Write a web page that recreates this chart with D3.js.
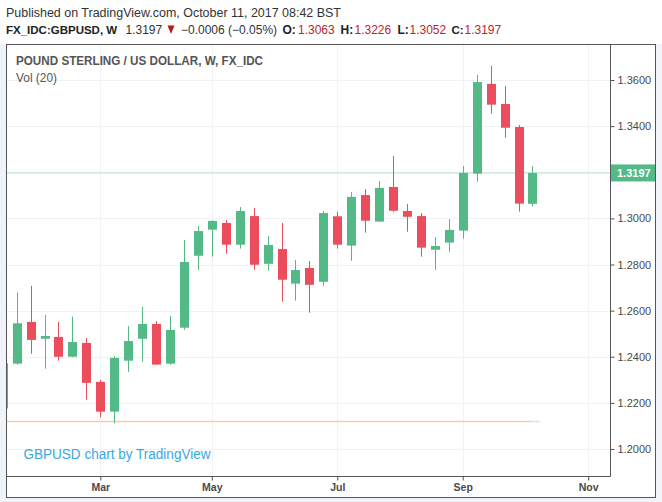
<!DOCTYPE html>
<html><head><meta charset="utf-8">
<script src="https://cdn.jsdelivr.net/npm/d3@7/dist/d3.min.js"></script>
<style>
html,body{margin:0;padding:0;background:#f0f3f7;}
svg{display:block;}
</style></head>
<body>
<svg id="c" width="662" height="502"></svg>
<script>
// ---- data ----
const weeks = ["2017-01-16","2017-01-23","2017-01-30","2017-02-06","2017-02-13","2017-02-20","2017-02-27",
"2017-03-06","2017-03-13","2017-03-20","2017-03-27","2017-04-03","2017-04-10","2017-04-17","2017-04-24",
"2017-05-01","2017-05-08","2017-05-15","2017-05-22","2017-05-29","2017-06-05","2017-06-12","2017-06-19",
"2017-06-26","2017-07-03","2017-07-10","2017-07-17","2017-07-24","2017-07-31","2017-08-07","2017-08-14",
"2017-08-21","2017-08-28","2017-09-04","2017-09-11","2017-09-18","2017-09-25","2017-10-02","2017-10-09"];
const open  = [1.2176,1.2370,1.2551,1.2478,1.2486,1.2400,1.2460,1.2291,1.2162,1.2383,1.2478,1.2542,1.2370,1.2526,1.2838,
1.2951,1.2980,1.2886,1.3010,1.2803,1.2867,1.2717,1.2785,1.2725,1.3009,1.2882,1.3101,1.2986,1.3136,1.3032,1.3010,
1.2864,1.2895,1.2947,1.3194,1.3583,1.3496,1.3396,1.3063];
const high  = [1.2415,1.2678,1.2707,1.2581,1.2551,1.2574,1.2481,1.2300,1.2403,1.2533,1.2616,1.2555,1.2577,1.2906,1.2967,
1.2991,1.2993,1.3049,1.3045,1.2924,1.2980,1.2820,1.2815,1.3032,1.3028,1.3114,1.3127,1.3162,1.3270,1.3062,1.3023,
1.2919,1.2997,1.3227,1.3622,1.3662,1.3574,1.3405,1.3226];
const low   = [1.1990,1.2366,1.2413,1.2348,1.2383,1.2398,1.2214,1.2137,1.2111,1.2334,1.2379,1.2364,1.2366,1.2517,1.2776,
1.2834,1.2847,1.2869,1.2777,1.2773,1.2639,1.2643,1.2591,1.2708,1.2869,1.2816,1.2938,1.2985,1.3029,1.2942,1.2834,
1.2777,1.2855,1.2912,1.3159,1.3454,1.3350,1.3029,1.3052];
const close = [1.2372,1.2545,1.2473,1.2490,1.2400,1.2464,1.2287,1.2162,1.2395,1.2468,1.2542,1.2366,1.2516,1.2811,1.2945,
1.2989,1.2886,1.3032,1.2799,1.2885,1.2734,1.2776,1.2712,1.3023,1.2886,1.3093,1.2990,1.3132,1.3033,1.3007,1.2873,
1.2880,1.2950,1.3197,1.3591,1.3493,1.3393,1.3064,1.3197];
const volume = weeks.map(() => 0); // FX_IDC reports no volume
const priceTicks = [1.20,1.22,1.24,1.26,1.28,1.30,1.32,1.34,1.36];
const priceTickLabels = priceTicks.map(v => v.toFixed(4));
const monthTicks = ["2017-03-06","2017-05-01","2017-07-03","2017-09-04","2017-11-06"];
const monthLabels = ["Mar","May","Jul","Sep","Nov"];
const lastPrice = 1.3197;

// ---- build ----
const parse = d3.utcParse("%Y-%m-%d");
const bars = weeks.map((w,i)=>({date:parse(w),o:open[i],h:high[i],l:low[i],c:close[i],v:volume[i]}));
const mt = monthTicks.map(parse);

const svg = d3.select("#c");
const L = 6.5, R = 610.5, T = 44.5, B = 476.5, OR = 655.5, OB = 497.5;
const UP = "#53b987", DN = "#eb4d5c";

const x = d3.scaleUtc().domain([mt[0], mt[4]]).range([100.3, 588.2]);
const y = d3.scaleLinear().domain([1.20, 1.36]).range([449, 80]);
const yv = d3.scaleLinear().domain([0, 1]).range([421.5, 380]);

// header
svg.append("rect").attr("x",0).attr("y",0).attr("width",662).attr("height",44).attr("fill","#ffffff");
const hf = "'Liberation Sans', Arial, sans-serif";
svg.append("text").attr("x",6).attr("y",16.5).attr("font-family",hf).attr("font-size",12)
  .attr("fill","#333").attr("textLength",335).attr("lengthAdjust","spacingAndGlyphs")
  .text("Published on TradingView.com, October 11, 2017 08:42 BST");
const n = open.length - 1;
const seg = [
  {t:"FX_IDC:GBPUSD, W", x:6, s:11.5, b:true, c:"#222"},
  {t:close[n].toFixed(4), x:125.5, s:12, b:false, c:"#333"},
  {t:"\u22120.0006 (\u22120.05%)", x:181, s:12, b:false, c:"#333"},
  {t:"O:", x:282.5, s:12, b:true, c:"#222"},
  {t:open[n].toFixed(4), x:298, s:12, b:false, c:"#b8262b"},
  {t:"H:", x:340.5, s:12, b:true, c:"#222"},
  {t:high[n].toFixed(4), x:354.5, s:12, b:false, c:"#b8262b"},
  {t:"L:", x:397.5, s:12, b:true, c:"#222"},
  {t:low[n].toFixed(4), x:409.5, s:12, b:false, c:"#b8262b"},
  {t:"C:", x:451.5, s:11.5, b:true, c:"#222"},
  {t:close[n].toFixed(4), x:464.5, s:12, b:false, c:"#b8262b"}
];
seg.forEach(s=>{
  svg.append("text").attr("x",s.x).attr("y",34).attr("font-family",hf).attr("font-size",s.s)
    .attr("font-weight",s.b?"bold":"normal").attr("fill",s.c).text(s.t);
});
svg.append("path").attr("d","M167.5,25.5 L174.5,25.5 L171,34 Z").attr("fill","#b71c1c");

// chart frame background
svg.append("rect").attr("x",L).attr("y",T).attr("width",OR-L).attr("height",OB-T).attr("fill","#fff");

// grid
const grid = svg.append("g").attr("stroke","#f0f2f5").attr("stroke-width",1);
priceTicks.forEach(v=>grid.append("line").attr("x1",L).attr("x2",R).attr("y1",Math.round(y(v))+0.5).attr("y2",Math.round(y(v))+0.5));
mt.forEach(d=>grid.append("line").attr("y1",T).attr("y2",B).attr("x1",Math.round(x(d))+0.5).attr("x2",Math.round(x(d))+0.5));

// clip
svg.append("clipPath").attr("id","pc").append("rect").attr("x",L+0.5).attr("y",T+0.5).attr("width",R-L-1).attr("height",B-T-1);
const plot = svg.append("g").attr("clip-path","url(#pc)");

// titles
svg.append("text").attr("x",16).attr("y",65).attr("font-family",hf).attr("font-size",12).attr("font-weight","bold")
  .attr("fill","#555").attr("textLength",247).attr("lengthAdjust","spacingAndGlyphs")
  .text("POUND STERLING / US DOLLAR, W, FX_IDC");
svg.append("text").attr("x",16).attr("y",81.5).attr("font-family",hf).attr("font-size",12)
  .attr("fill","#555").attr("textLength",41).attr("lengthAdjust","spacingAndGlyphs").text("Vol (20)");

// volume MA line
plot.append("path").datum(bars)
  .attr("d",d3.line().x(d=>x(d.date)).y(d=>yv(d.v)))
  .attr("fill","none").attr("stroke","#f9c9b6").attr("stroke-width",1.5);
plot.append("line").attr("x1",x(bars[n].date)).attr("x2",x(bars[n].date)+8)
  .attr("y1",yv(0)).attr("y2",yv(0)).attr("stroke","#dfe3e6").attr("stroke-width",1.5);

// last price line
plot.append("line").attr("x1",L).attr("x2",R).attr("y1",y(lastPrice)).attr("y2",y(lastPrice))
  .attr("stroke","#b4e4cd").attr("stroke-width",1);

// candles
const cg = plot.append("g").selectAll("g").data(bars).join("g");
cg.append("line")
  .attr("x1",d=>Math.round(x(d.date))+0.5).attr("x2",d=>Math.round(x(d.date))+0.5)
  .attr("y1",d=>y(d.h)).attr("y2",d=>y(d.l))
  .attr("stroke",d=>d.c>=d.o?UP:DN).attr("stroke-width",1);
cg.append("rect")
  .attr("x",d=>Math.round(x(d.date))-4).attr("width",9)
  .attr("y",d=>y(Math.max(d.o,d.c))).attr("height",d=>Math.max(1,Math.abs(y(d.o)-y(d.c))))
  .attr("fill",d=>d.c>=d.o?UP:DN);

// watermark
svg.append("text").attr("x",23.5).attr("y",458.5).attr("font-family",hf).attr("font-size",14)
  .attr("fill","#3aa8e0").attr("textLength",187).attr("lengthAdjust","spacingAndGlyphs")
  .text("GBPUSD chart by TradingView");

// axes
const yAxis = d3.axisRight(y).tickValues(priceTicks).tickFormat((d,i)=>priceTickLabels[i]).tickSize(4).tickPadding(3);
const ya = svg.append("g").attr("transform",`translate(${R},0)`).call(yAxis);
ya.select(".domain").remove();
ya.selectAll("line").attr("stroke","#555");
ya.selectAll("text").attr("font-family",hf).attr("font-size",11).attr("fill","#4a4a4a");

const xAxis = d3.axisBottom(x).tickValues(mt).tickFormat((d,i)=>monthLabels[i]).tickSize(4).tickPadding(3);
const xa = svg.append("g").attr("transform",`translate(0,${B})`).call(xAxis);
xa.select(".domain").remove();
xa.selectAll("line").attr("stroke","#555");
xa.selectAll("text").attr("font-family",hf).attr("font-size",10.5).attr("font-weight","bold").attr("fill","#4a4a4a");

// last price label
svg.append("rect").attr("x",R).attr("y",y(lastPrice)-8.5).attr("width",OR-R).attr("height",17).attr("fill",UP);
svg.append("text").attr("x",617).attr("y",y(lastPrice)).attr("dy","0.35em").attr("font-family",hf)
  .attr("font-size",11).attr("font-weight","bold").attr("fill","#fff").text(d3.format(".4f")(lastPrice));

// frames
const fr = svg.append("g").attr("fill","none").attr("stroke","#555").attr("stroke-width",1);
fr.append("rect").attr("x",L).attr("y",T).attr("width",OR-L).attr("height",OB-T);
fr.append("line").attr("x1",R).attr("x2",R).attr("y1",T).attr("y2",B);
fr.append("line").attr("x1",L).attr("x2",R).attr("y1",B).attr("y2",B);
</script>
</body></html>
